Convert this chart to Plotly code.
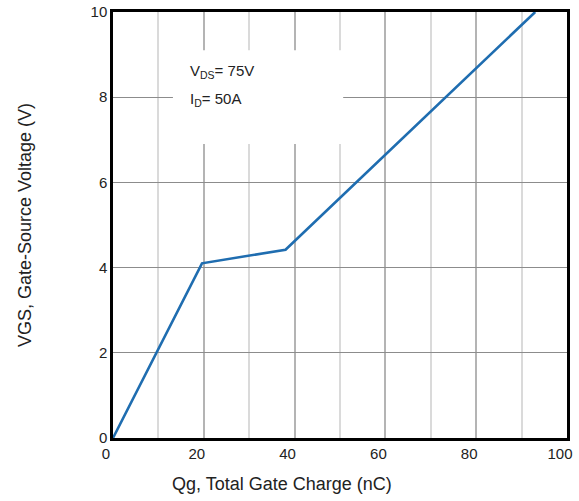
import plotly.graph_objects as go

qg = [0, 19.6, 38.0, 93.0]
vgs = [0, 4.1, 4.42, 10.0]
x_ticks = [0, 20, 40, 60, 80, 100]
y_ticks = [0, 2, 4, 6, 8, 10]

fig = go.Figure()
fig.add_trace(go.Scatter(x=qg, y=vgs, mode="lines",
                         line=dict(color="#1f6db0", width=2.6),
                         showlegend=False, hoverinfo="skip"))

fig.add_shape(type="rect", xref="x", yref="y", x0=13.2, x1=50.7, y0=6.9, y1=9.1,
              fillcolor="white", line=dict(width=0), layer="above")

font = dict(family="Liberation Sans, Arial, sans-serif", color="#222")
fig.add_annotation(x=16.5, y=8.6, xref="x", yref="y", xanchor="left", yanchor="middle",
                   text="V<sub>DS</sub>= 75V", showarrow=False, font=dict(size=15, **font))
fig.add_annotation(x=16.5, y=7.95, xref="x", yref="y", xanchor="left", yanchor="middle",
                   text="I<sub>D</sub>= 50A", showarrow=False, font=dict(size=15, **font))

fig.add_annotation(x=0.5, y=0, xref="paper", yref="paper", yanchor="middle",
                   text="Qg, Total Gate Charge (nC)", showarrow=False,
                   font=dict(size=18, **font), xshift=-58, yshift=-46)
fig.add_annotation(x=0, y=0.5, xref="paper", yref="paper", xanchor="center", yanchor="middle",
                   text="VGS, Gate-Source Voltage (V)", showarrow=False, textangle=-90,
                   font=dict(size=18, **font), xshift=-88)

fig.update_layout(
    width=579, height=501,
    margin=dict(l=113, r=12, t=12, b=63, autoexpand=False),
    paper_bgcolor="white", plot_bgcolor="white",
    font=dict(size=15, **font),
    xaxis=dict(range=[0, 100], tickvals=x_ticks, ticktext=[str(v) for v in x_ticks],
               showgrid=True, gridcolor="#b4b4b4", gridwidth=1.5,
               minor=dict(dtick=10, tick0=0, showgrid=True, gridcolor="#dadada", gridwidth=1.5),
               showline=True, linecolor="black", linewidth=2.5, mirror=True,
               ticks="", zeroline=False, fixedrange=True, automargin=False,
               ticklabelshift=-7, ticklabeloverflow="allow"),
    yaxis=dict(range=[0, 10], tickvals=y_ticks, ticktext=[str(v) for v in y_ticks],
               showgrid=True, gridcolor="#8c8c8c", gridwidth=1,
               showline=True, linecolor="black", linewidth=2.5, mirror=True,
               ticks="", zeroline=False, fixedrange=True, automargin=False,
               ticklabeloverflow="allow"),
)

fig.write_html("out.html")
